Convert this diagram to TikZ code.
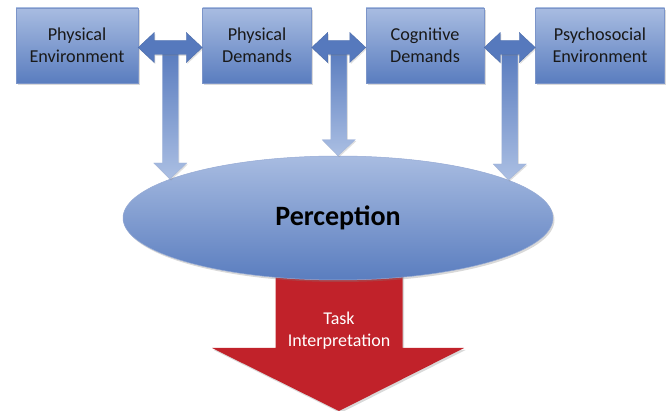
\documentclass[tikz,border=0pt]{standalone}
\usepackage{fontspec}
\setmainfont{Carlito}
\usetikzlibrary{positioning,calc,shadows,shapes.geometric,backgrounds}

\definecolor{boxtop}{HTML}{A8BCE1}
\definecolor{boxbot}{HTML}{5A7DBF}
\definecolor{boxedge}{HTML}{7C95C9}
\definecolor{arrdark}{HTML}{5679BD}
\definecolor{arrlight}{HTML}{ABBFE3}
\definecolor{taskred}{HTML}{C1222A}

\tikzset{
  factor/.style={rectangle, draw=boxedge, line width=0.5pt,
    top color=boxtop, bottom color=boxbot, minimum height=75pt,
    inner sep=2pt, align=center, text=black!90,
    font=\fontsize{18.2}{22}\selectfont,
    drop shadow={shadow xshift=1.5pt, shadow yshift=-2pt, opacity=0.3}},
  perception/.style={ellipse, draw=boxedge!80, line width=0.5pt,
    top color=boxtop, bottom color=boxbot, minimum width=430pt,
    minimum height=124pt, inner sep=0pt, text=black,
    font=\fontsize{28}{32}\bfseries\selectfont,
    drop shadow={shadow xshift=1.5pt, shadow yshift=-2pt, opacity=0.3}},
  downarrow/.style={draw=boxedge!70, line width=0.4pt,
    top color=arrdark, bottom color=arrlight,
    drop shadow={shadow xshift=1pt, shadow yshift=-1.5pt, opacity=0.25}},
  sidearrow/.style={draw=arrdark!90!black, line width=0.4pt, fill=arrdark,
    drop shadow={shadow xshift=1pt, shadow yshift=-1.5pt, opacity=0.25}},
  taskarrow/.style={fill=taskred,
    drop shadow={shadow xshift=1.5pt, shadow yshift=-2pt, opacity=0.3}},
  tasklabel/.style={align=center, text=white,
    font=\fontsize{18}{22}\selectfont}
}

% double arrow between two boxes, with a block arrow down to the ellipse
\newcommand{\linkarrow}[3]{%
  \path[downarrow] let \p1=($(#1.east)!0.5!(#2.west)$), \p2=(#3) in
    (\x1-8pt,\y1) -- (\x1-8pt,\y2+16pt) -- (\x1-16.5pt,\y2+16pt) -- (\x2,\y2)
    -- (\x1+16.5pt,\y2+16pt) -- (\x1+8pt,\y2+16pt) -- (\x1+8pt,\y1) -- cycle;
  \path[sidearrow] let \p1=(#1.east), \p2=(#2.west) in
    (\x1,\y1-2pt) -- (\x1+16pt,\y1+13pt) -- (\x1+16pt,\y1+5pt)
    -- (\x2-16pt,\y1+5pt) -- (\x2-16pt,\y1+13pt) -- (\x2,\y1-2pt)
    -- (\x2-16pt,\y1-17pt) -- (\x2-16pt,\y1-9pt) -- (\x1+16pt,\y1-9pt)
    -- (\x1+16pt,\y1-17pt) -- cycle;
}

\begin{document}
\begin{tikzpicture}[x=1pt,y=-1pt]
\useasboundingbox (0,0) rectangle (667,411);
% the four factors along the top
   \node[factor,minimum width=122pt] (physenv) at (77,45.5) {Physical\\Environment};
   \node[factor,minimum width=109pt] (physdem) [right=64pt of physenv] {Physical\\Demands};
   \node[factor,minimum width=118pt] (cogdem) [right=54pt of physdem] {Cognitive\\Demands};
   \node[factor,minimum width=129pt] (psyenv) [right=51pt of cogdem] {Psychosocial\\Environment};
% the perception ellipse and where the arrows meet it
   \node[perception] (perc) at (338,218) {Perception};
   \coordinate (tipA) at (170,179);
   \coordinate (tipB) at (perc.north);
   \coordinate (tipC) at (508.5,180);
   \coordinate (tip) at (339,411);
% links between the factors and down to the perception
   \linkarrow{physenv}{physdem}{tipA}
   \linkarrow{physdem}{cogdem}{tipB}
   \linkarrow{cogdem}{psyenv}{tipC}
% the red arrow out of the perception
\begin{pgfonlayer}{background}
   \path[taskarrow] let \p1=(perc.south), \p2=(tip) in
    (\x1-62.5pt,\y1+20pt) -- (\x1-62.5pt,\y2+63pt) -- (\x1-126pt,\y2+63pt)
    -- (\x2,\y2) -- (\x1+126pt,\y2+63pt) -- (\x1+64.5pt,\y2+63pt)
    -- (\x1+64.5pt,\y1+20pt) -- cycle;
\end{pgfonlayer}
   \node[tasklabel] (task) at (339,331) {Task\\Interpretation};
\end{tikzpicture}
\end{document}
